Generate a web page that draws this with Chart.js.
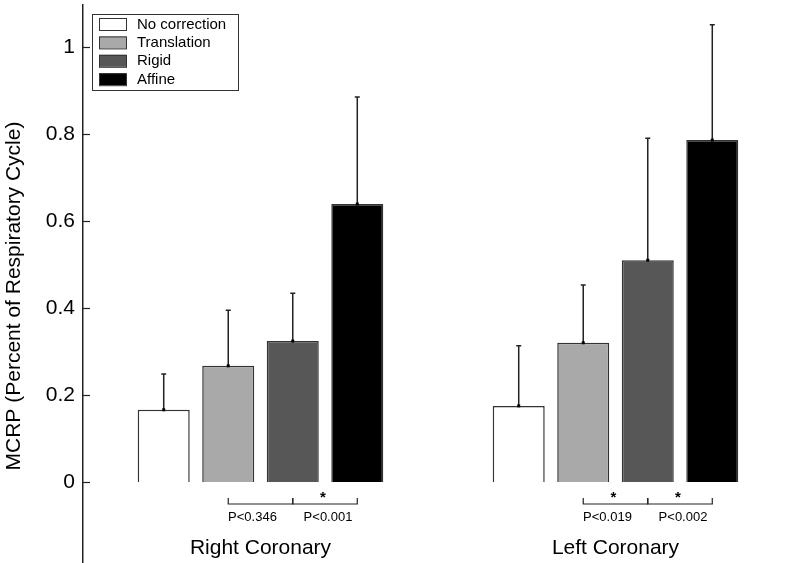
<!DOCTYPE html>
<html lang="en">
<head>
    <meta charset="UTF-8">
    <title>MCRP by correction method</title>
    <script src="https://cdn.jsdelivr.net/npm/chart.js"></script>
    <style>
        html, body {
            margin: 0;
            overflow: hidden;
            background: #ffffff;
        }

        /* the figure is cropped: the plot runs a little past the right and bottom edge */
        .chart-box {
            width: 786px;
            height: 563px;
            overflow: hidden;
        }
    </style>
</head>
<body>
    <div class="chart-box">
        <canvas id="mcrpChart" width="793" height="587"></canvas>
    </div>

    <script>
        // Chart data
        const categories = ['Right Coronary', 'Left Coronary'];
        const seriesNames = ['No correction', 'Translation', 'Rigid', 'Affine'];
        const seriesColors = ['#ffffff', '#a9a9a9', '#575757', '#000000'];

        // mean MCRP for each series (right, left)
        const noCorrection = [0.166, 0.175];
        const translation = [0.267, 0.320];
        const rigid = [0.324, 0.510];
        const affine = [0.639, 0.786];

        // top of the error bar for each series (right, left)
        const noCorrectionUpper = [0.248, 0.313];
        const translationUpper = [0.395, 0.453];
        const rigidUpper = [0.434, 0.790];
        const affineUpper = [0.885, 1.051];

        const yTicks = [0, 0.2, 0.4, 0.6, 0.8, 1];

        // pairwise comparisons shown under each group
        const comparisons = [
            { group: 0, from: 1, to: 2, label: 'P<0.346', star: false, shift: -8 },
            { group: 0, from: 2, to: 3, label: 'P<0.001', star: true, shift: 3 },
            { group: 1, from: 1, to: 2, label: 'P<0.019', star: true, shift: -8 },
            { group: 1, from: 2, to: 3, label: 'P<0.002', star: true, shift: 3 }
        ];

        const means = [noCorrection, translation, rigid, affine];
        const uppers = [noCorrectionUpper, translationUpper, rigidUpper, affineUpper];

        const FONT = "'Liberation Sans', Arial, Helvetica, sans-serif";
        const INK = '#222';

        // error bars, y tick marks (inward), legend, brackets and group labels
        const extrasPlugin = {
            id: 'extras',
            afterDatasetsDraw(chart) {
                const ctx = chart.ctx;
                const yScale = chart.scales.y;
                const xScale = chart.scales.x;
                const area = chart.chartArea;

                ctx.save();

                // error bars
                ctx.strokeStyle = INK;
                ctx.fillStyle = '#000';
                ctx.lineWidth = 1.5;
                uppers.forEach((upper, i) => {
                    const meta = chart.getDatasetMeta(i);
                    meta.data.forEach((bar, j) => {
                        const yTop = yScale.getPixelForValue(upper[j]);
                        ctx.beginPath();
                        ctx.moveTo(bar.x, bar.y);
                        ctx.lineTo(bar.x, yTop);
                        ctx.moveTo(bar.x - 2.5, yTop);
                        ctx.lineTo(bar.x + 2.5, yTop);
                        ctx.stroke();
                        ctx.fillRect(bar.x - 1.5, bar.y - 1.5, 3, 3);
                    });
                });

                // tick marks pointing into the plot
                ctx.lineWidth = 1.2;
                yTicks.forEach(v => {
                    const y = Math.round(yScale.getPixelForValue(v)) + 0.5;
                    ctx.beginPath();
                    ctx.moveTo(area.left, y);
                    ctx.lineTo(area.left + 7, y);
                    ctx.stroke();
                });

                // legend box
                const lx = area.left + 9;
                const ly = 14;
                ctx.lineWidth = 1;
                ctx.strokeStyle = '#333';
                ctx.fillStyle = '#fff';
                ctx.fillRect(lx, ly, 146, 76);
                ctx.strokeRect(lx + 0.5, ly + 0.5, 146, 76);
                ctx.font = '15px ' + FONT;
                ctx.textBaseline = 'middle';
                ctx.textAlign = 'left';
                seriesNames.forEach((name, i) => {
                    const cy = ly + 10 + i * 18.4;
                    ctx.fillStyle = seriesColors[i];
                    ctx.fillRect(lx + 7, cy - 6, 27, 12);
                    ctx.strokeStyle = '#333';
                    ctx.strokeRect(lx + 7.5, cy - 5.5, 27, 12);
                    ctx.fillStyle = '#000';
                    ctx.fillText(name, lx + 45, cy + 0.5);
                });

                // significance brackets under the bars
                const y0 = yScale.getPixelForValue(0);
                ctx.strokeStyle = INK;
                ctx.lineWidth = 1.2;
                comparisons.forEach(c => {
                    const xa = chart.getDatasetMeta(c.from).data[c.group].x;
                    const xb = chart.getDatasetMeta(c.to).data[c.group].x;
                    ctx.beginPath();
                    ctx.moveTo(xa, y0 + 16);
                    ctx.lineTo(xa, y0 + 22);
                    ctx.lineTo(xb, y0 + 22);
                    ctx.lineTo(xb, y0 + 16);
                    ctx.stroke();
                    ctx.fillStyle = '#000';
                    ctx.textAlign = 'center';
                    if (c.star) {
                        ctx.font = 'bold 15px ' + FONT;
                        ctx.fillText('*', (xa + xb) / 2 - 2, y0 + 16);
                    }
                    ctx.font = '13px ' + FONT;
                    ctx.fillText(c.label, (xa + xb) / 2 + c.shift, y0 + 35);
                });

                // group names
                ctx.font = '21px ' + FONT;
                ctx.fillStyle = '#000';
                categories.forEach((name, i) => {
                    ctx.fillText(name, xScale.getPixelForValue(i), y0 + 66);
                });

                ctx.restore();
            }
        };

        const datasets = seriesNames.map((name, i) => ({
            label: name,
            data: means[i],
            backgroundColor: seriesColors[i],
            borderColor: '#333',
            borderWidth: 1.5,
            categoryPercentage: 0.727,
            barPercentage: 0.806
        }));

        new Chart(document.getElementById('mcrpChart'), {
            type: 'bar',
            data: {
                labels: categories,
                datasets: datasets
            },
            options: {
                responsive: false,
                animation: false,
                layout: {
                    padding: { top: 5, bottom: 0, left: 0, right: 0 }
                },
                plugins: {
                    legend: { display: false },
                    tooltip: { enabled: false }
                },
                scales: {
                    x: {
                        display: false
                    },
                    y: {
                        min: -0.2414,
                        max: 1.0966,
                        grid: { display: false, drawTicks: false },
                        border: { display: true, color: INK, width: 1.5 },
                        ticks: {
                            stepSize: 0.2,
                            includeBounds: false,
                            padding: 8,
                            color: '#000',
                            font: { family: FONT, size: 21 },
                            callback: v => (v < -1e-9 ? '' : String(Math.round(v * 10) / 10))
                        },
                        title: {
                            display: true,
                            text: 'MCRP (Percent of Respiratory Cycle)',
                            color: '#000',
                            font: { family: FONT, size: 21 },
                            padding: { top: 2, bottom: 0 }
                        },
                        afterFit: scale => {
                            scale.width = 83;
                            scale.paddingTop = 0;
                            scale.paddingBottom = 0;
                        }
                    }
                }
            },
            plugins: [extrasPlugin]
        });
    </script>
</body>
</html>
